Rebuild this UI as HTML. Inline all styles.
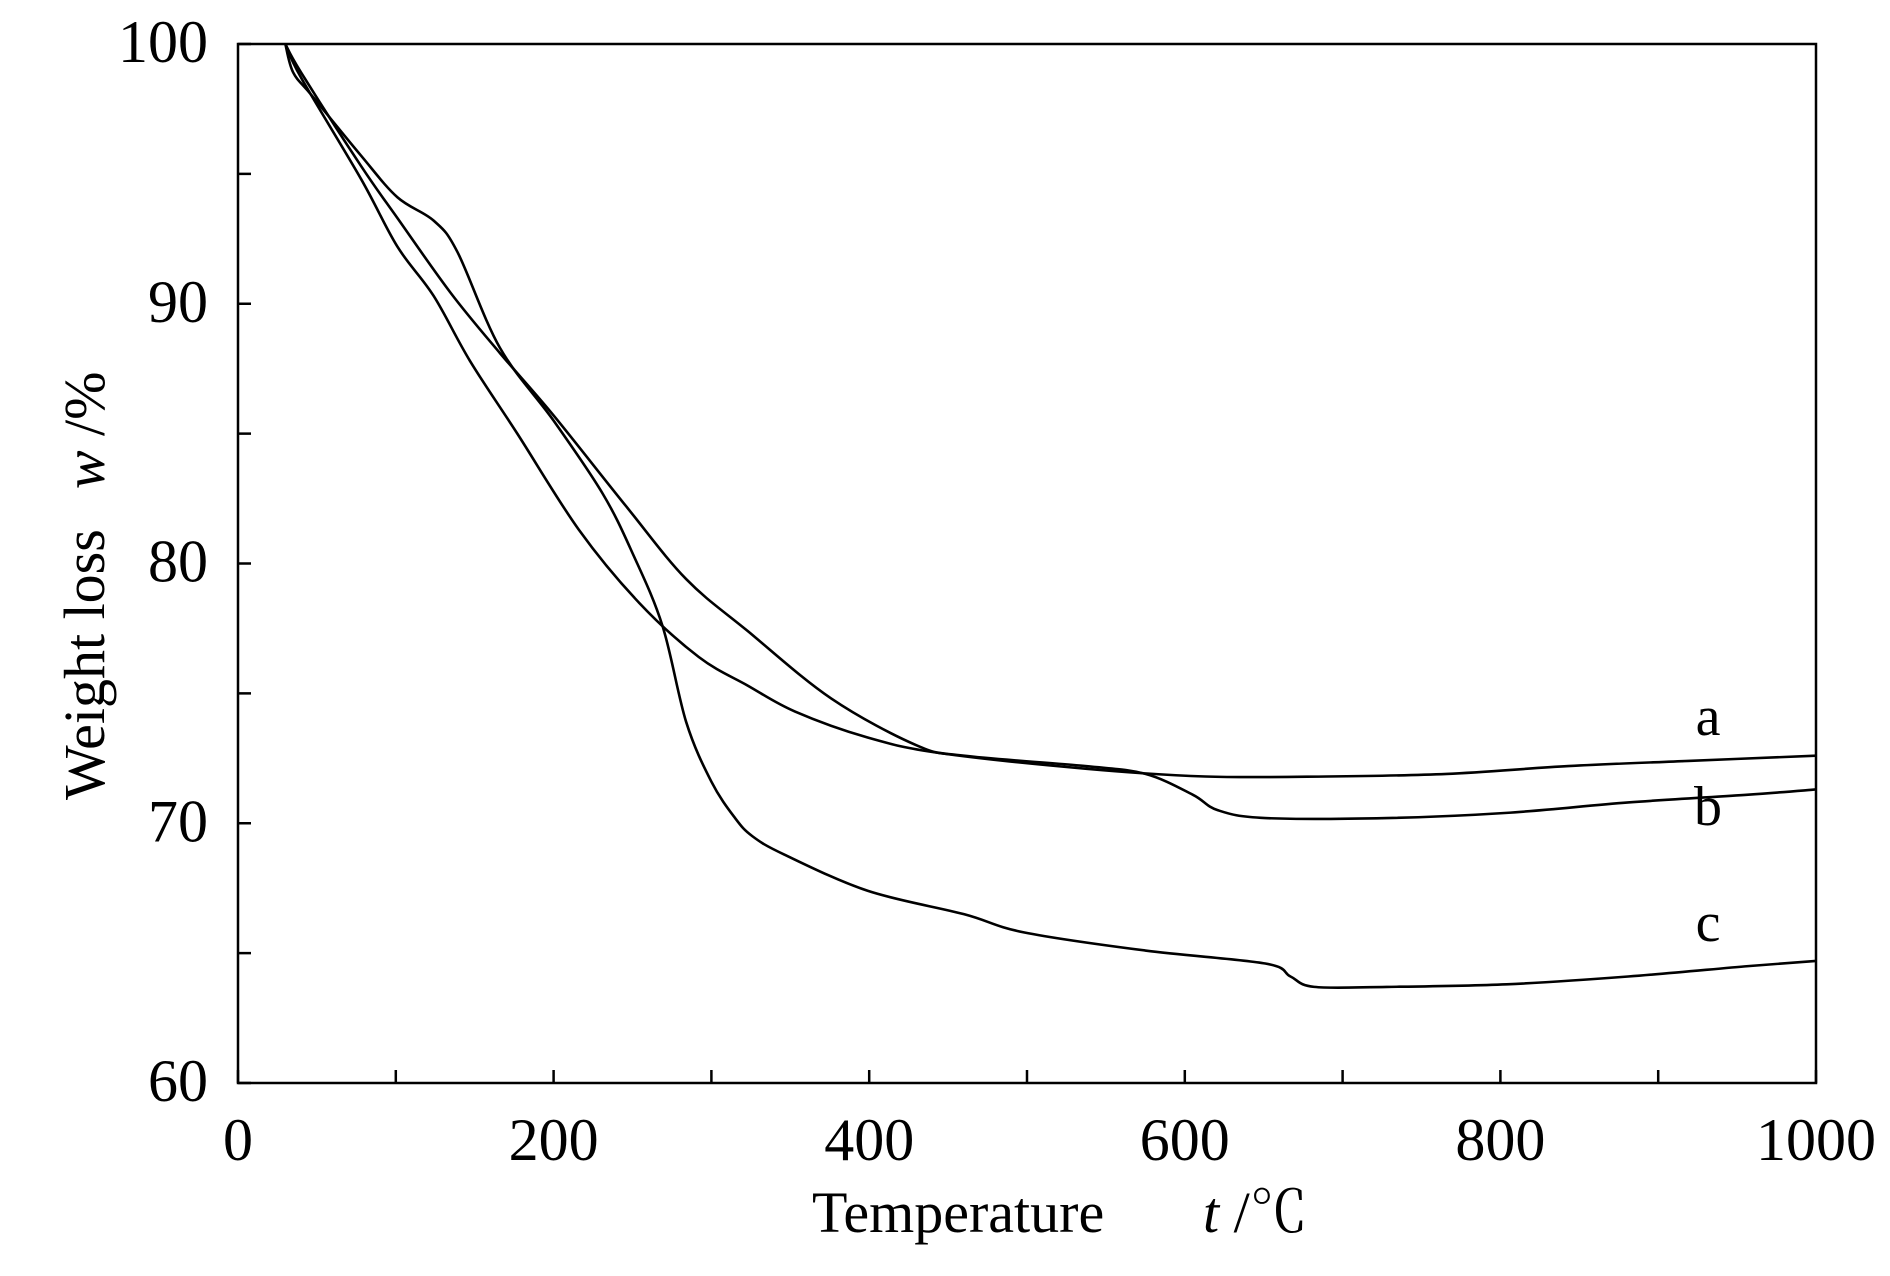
<!DOCTYPE html>
<html><head><meta charset="utf-8"><style>
html,body{margin:0;padding:0;background:#fff;}
svg{display:block;font-family:"Liberation Serif","Noto Serif CJK SC",serif;}
</style></head><body>
<svg id="chart" width="1890" height="1276" viewBox="0 0 1890 1276">
<rect x="0" y="0" width="1890" height="1276" fill="#fff"/>
<g id="ticks"></g>
<g id="series"></g>
<rect x="238" y="44" width="1578" height="1039" fill="none" stroke="#000" stroke-width="2.5"/>
<text x="1708" y="735" font-size="56" text-anchor="middle">a</text>
<text x="1708" y="825" font-size="56" text-anchor="middle">b</text>
<text x="1708" y="941" font-size="56" text-anchor="middle">c</text>
<text x="812" y="1232" font-size="58">Temperature<tspan x="1203" font-style="italic">t</tspan><tspan> /℃</tspan></text>
<g transform="translate(104,800) rotate(-90)">
<text x="0" y="0" font-size="58">Weight loss<tspan dx="40" font-style="italic">w</tspan><tspan> /%</tspan></text>
</g>
</svg>
<script>
const xTicks=[0,200,400,600,800,1000];
const yTicks=[60,70,80,90,100];
const tA=[30,40,78,101,124,147,177,216,254,292,323,353,399,445,537,613,690,766,843,919,1000];
const wA=[100,98.7,94.8,92.2,90.3,87.8,85,81.3,78.5,76.4,75.3,74.3,73.3,72.7,72.1,71.8,71.8,71.9,72.2,72.4,72.6];
const tB=[30,40,78,101,135,166,200,246,284,323,376,430,460,537,575,605,621,651,728,804,881,957,1000];
const wB=[100,98.9,95.3,93.3,90.4,88.1,85.7,82.2,79.4,77.4,74.8,73,72.6,72.2,71.9,71.1,70.5,70.2,70.2,70.4,70.8,71.1,71.3];
const tC=[30,35,47,78,101,124,139,166,200,231,250,269,284,300,315,326,346,399,460,498,575,651,667,682,728,804,881,957,1000];
const wC=[100,98.9,98,95.7,94.1,93.2,92,88.3,85.5,82.7,80.4,77.6,73.9,71.6,70.2,69.5,68.8,67.4,66.5,65.8,65.1,64.6,64.1,63.7,63.7,63.8,64.1,64.5,64.7];
const X0=238,X1=1816,Y0=1083,Y1=44;
function sx(t){return X0+(t/1000)*(X1-X0);}
function sy(w){return Y0-((w-60)/40)*(Y0-Y1);}
const NS="http://www.w3.org/2000/svg";
const tg=document.getElementById('ticks');
for(let v=0;v<=1000;v+=100){
  const l=document.createElementNS(NS,'line');
  l.setAttribute('x1',sx(v));l.setAttribute('x2',sx(v));
  l.setAttribute('y1',Y0);l.setAttribute('y2',Y0-13);
  l.setAttribute('stroke','#000');l.setAttribute('stroke-width','2.5');
  
  
  tg.appendChild(l);
}
for(let v=60;v<=100;v+=5){
  const l=document.createElementNS(NS,'line');
  l.setAttribute('x1',X0);l.setAttribute('x2',X0+13);
  l.setAttribute('y1',sy(v));l.setAttribute('y2',sy(v));
  l.setAttribute('stroke','#000');l.setAttribute('stroke-width','2.5');
  
  
  tg.appendChild(l);
}
xTicks.forEach(v=>{
  const t=document.createElementNS(NS,'text');
  t.setAttribute('x',sx(v));t.setAttribute('y',1160);
  t.setAttribute('font-size','60');t.setAttribute('text-anchor','middle');
  t.textContent=v;
  
  
  tg.appendChild(t);
});
yTicks.forEach(v=>{
  const t=document.createElementNS(NS,'text');
  t.setAttribute('x',208);t.setAttribute('y',sy(v)+18);
  t.setAttribute('font-size','60');t.setAttribute('text-anchor','end');
  t.textContent=v;
  
  
  tg.appendChild(t);
});
function pathFor(ts,ws){
  const p=ts.map((t,i)=>[sx(t),sy(ws[i])]);
  let d='M'+p[0][0]+','+p[0][1];
  for(let i=0;i<p.length-1;i++){
    const a=p[Math.max(0,i-1)],b=p[i],c=p[i+1],e=p[Math.min(p.length-1,i+2)];
    const c1=[b[0]+(c[0]-a[0])/6,b[1]+(c[1]-a[1])/6];
    const c2=[c[0]-(e[0]-b[0])/6,c[1]-(e[1]-b[1])/6];
    d+=' C'+c1[0]+','+c1[1]+' '+c2[0]+','+c2[1]+' '+c[0]+','+c[1];
  }
  return d;
}
const sg=document.getElementById('series');
[[tA,wA,'curve-a'],[tB,wB,'curve-b'],[tC,wC,'curve-c']].forEach(s=>{
  const p=document.createElementNS(NS,'path');
  p.setAttribute('d',pathFor(s[0],s[1]));
  p.setAttribute('fill','none');p.setAttribute('stroke','#000');p.setAttribute('stroke-width','2.6');
  
  
  sg.appendChild(p);
});
</script>
</body></html>
